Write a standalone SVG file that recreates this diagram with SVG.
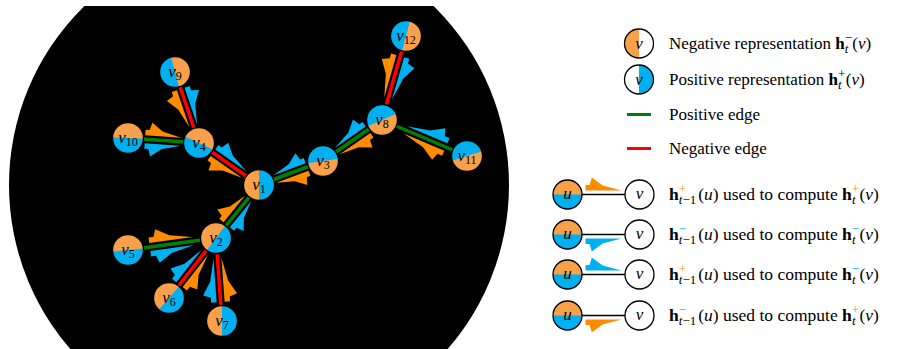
<svg xmlns="http://www.w3.org/2000/svg" xmlns:xlink="http://www.w3.org/1999/xlink" width="903" height="349" viewBox="0 0 903 349">
<defs>
  <clipPath id="clip"><rect x="0" y="6" width="903" height="343"/></clipPath>
  <path id="hp" d="M0,4 L40,4 L19,9 L7,17 L4.5,9.5 L0,9.5 Z"/>
  <path id="half" d="M0,-15.5 A15.5,15.5 0 0 0 0,15.5 Z"/>
</defs>
<style>
  .or{fill:#FF8C00}
  .bl{fill:#00B0F0}
  .no{fill:#F9A04A}
  .nb{fill:#00B0F0}
  .ring{fill:none;stroke:#000;stroke-width:1.3}
  .eb{stroke:#000;stroke-width:7.5}
  .eg{stroke:#008000;stroke-width:3.5}
  .er{stroke:#FF0000;stroke-width:3.5}
  .lbl{font-family:"Liberation Serif",serif;font-size:17px;text-anchor:middle;fill:#000}
  .it{font-style:italic}
  .txt{font-family:"Liberation Serif",serif;font-size:17px;fill:#000}
  .txb{font-family:"Liberation Serif",serif;font-size:17.5px;fill:#000}
  .sm{font-size:12px}
  .ss{font-size:13px}
</style>

<circle cx="259" cy="185" r="250" fill="#000" clip-path="url(#clip)"/>

<g id="connectors">
  <g id="edge-lines">
    <line class="eb" x1="175" y1="72" x2="199" y2="143"/><line class="er" x1="175" y1="72" x2="199" y2="143"/>
    <line class="eb" x1="128" y1="138" x2="199" y2="143"/><line class="eg" x1="128" y1="138" x2="199" y2="143"/>
    <line class="eb" x1="199" y1="143" x2="259" y2="185"/><line class="er" x1="199" y1="143" x2="259" y2="185"/>
    <line class="eb" x1="323" y1="161" x2="259" y2="185"/><line class="eg" x1="323" y1="161" x2="259" y2="185"/>
    <line class="eb" x1="382" y1="120" x2="323" y2="161"/><line class="eg" x1="382" y1="120" x2="323" y2="161"/>
    <line class="eb" x1="467" y1="156" x2="382" y2="120"/><line class="eg" x1="467" y1="156" x2="382" y2="120"/>
    <line class="eb" x1="406" y1="36" x2="382" y2="120"/><line class="er" x1="406" y1="36" x2="382" y2="120"/>
    <line class="eb" x1="216" y1="238" x2="259" y2="185"/><line class="eg" x1="216" y1="238" x2="259" y2="185"/>
    <line class="eb" x1="128" y1="250" x2="216" y2="238"/><line class="eg" x1="128" y1="250" x2="216" y2="238"/>
    <line class="eb" x1="169" y1="298" x2="216" y2="238"/><line class="er" x1="169" y1="298" x2="216" y2="238"/>
    <line class="eb" x1="222" y1="321" x2="216" y2="238"/><line class="er" x1="222" y1="321" x2="216" y2="238"/>
  </g>
  <g id="edge-arrows">
    <g transform="translate(175,72) rotate(71.33)">
      <use xlink:href="#hp" class="bl" transform="translate(18,0) scale(0.975,-1)"/>
      <use xlink:href="#hp" class="or" transform="translate(18,0) scale(0.975,1)"/>
    </g>
    <g transform="translate(128,138) rotate(4.03)">
      <use xlink:href="#hp" class="or" transform="translate(17,0) scale(0.9,-1)"/>
      <use xlink:href="#hp" class="bl" transform="translate(17,0) scale(0.9,1)"/>
    </g>
    <g transform="translate(199,143) rotate(34.99)">
      <use xlink:href="#hp" class="bl" transform="translate(17,0) scale(0.95,-1)"/>
      <use xlink:href="#hp" class="or" transform="translate(17,0) scale(0.95,1)"/>
    </g>
    <g transform="translate(323,161) rotate(159.44)">
      <use xlink:href="#hp" class="or" transform="translate(17,0) scale(0.86,-1)"/>
      <use xlink:href="#hp" class="bl" transform="translate(17,0) scale(0.86,1)"/>
    </g>
    <g transform="translate(382,120) rotate(145.2)">
      <use xlink:href="#hp" class="or" transform="translate(17,0) scale(0.93,-1)"/>
      <use xlink:href="#hp" class="bl" transform="translate(17,0) scale(0.93,1)"/>
    </g>
    <g transform="translate(467,156) rotate(-157.05)">
      <use xlink:href="#hp" class="or" transform="translate(23,0) scale(1.1,-1)"/>
      <use xlink:href="#hp" class="bl" transform="translate(23,0) scale(1.1,1)"/>
    </g>
    <g transform="translate(406,36) rotate(105.95)">
      <use xlink:href="#hp" class="bl" transform="translate(21,0) scale(1.1,-1)"/>
      <use xlink:href="#hp" class="or" transform="translate(21,0) scale(1.1,1)"/>
    </g>
    <g transform="translate(216,238) rotate(-50.95)">
      <use xlink:href="#hp" class="or" transform="translate(17,0) scale(0.85,-1)"/>
      <use xlink:href="#hp" class="bl" transform="translate(17,0) scale(0.85,1)"/>
    </g>
    <g transform="translate(128,250) rotate(-7.77)">
      <use xlink:href="#hp" class="or" transform="translate(22,0) scale(1.1,-1)"/>
      <use xlink:href="#hp" class="bl" transform="translate(22,0) scale(1.1,1)"/>
    </g>
    <g transform="translate(169,298) rotate(-51.93)">
      <use xlink:href="#hp" class="bl" transform="translate(17,0) scale(1.03,-1)"/>
      <use xlink:href="#hp" class="or" transform="translate(17,0) scale(1.03,1)"/>
    </g>
    <g transform="translate(222,321) rotate(-94.13)">
      <use xlink:href="#hp" class="bl" transform="translate(19,0) scale(1.1,-1)"/>
      <use xlink:href="#hp" class="or" transform="translate(19,0) scale(1.1,1)"/>
    </g>
  </g>
</g>

<g id="v1" transform="translate(259,185)">
  <g transform="rotate(0)"><circle r="15.5" class="nb"/><use xlink:href="#half" class="no"/></g>
  <circle r="15.5" class="ring"/>
  <text class="lbl" x="0" y="5"><tspan class="it">v</tspan><tspan class="sm" dy="3">1</tspan></text>
</g>
<g id="v2" transform="translate(216,238)">
  <g transform="rotate(37)"><circle r="15.5" class="nb"/><use xlink:href="#half" class="no"/></g>
  <circle r="15.5" class="ring"/>
  <text class="lbl" x="0" y="5"><tspan class="it">v</tspan><tspan class="sm" dy="3">2</tspan></text>
</g>
<g id="v3" transform="translate(323,161)">
  <g transform="rotate(-98)"><circle r="15.5" class="nb"/><use xlink:href="#half" class="no"/></g>
  <circle r="15.5" class="ring"/>
  <text class="lbl" x="0" y="5"><tspan class="it">v</tspan><tspan class="sm" dy="3">3</tspan></text>
</g>
<g id="v4" transform="translate(199,143)">
  <g transform="rotate(115)"><circle r="15.5" class="nb"/><use xlink:href="#half" class="no"/></g>
  <circle r="15.5" class="ring"/>
  <text class="lbl" x="0" y="5"><tspan class="it">v</tspan><tspan class="sm" dy="3">4</tspan></text>
</g>
<g id="v5" transform="translate(128,250)">
  <g transform="rotate(84)"><circle r="15.5" class="nb"/><use xlink:href="#half" class="no"/></g>
  <circle r="15.5" class="ring"/>
  <text class="lbl" x="0" y="5"><tspan class="it">v</tspan><tspan class="sm" dy="3">5</tspan></text>
</g>
<g id="v6" transform="translate(169,298)">
  <g transform="rotate(41)"><circle r="15.5" class="nb"/><use xlink:href="#half" class="no"/></g>
  <circle r="15.5" class="ring"/>
  <text class="lbl" x="0" y="5"><tspan class="it">v</tspan><tspan class="sm" dy="3">6</tspan></text>
</g>
<g id="v7" transform="translate(222,321)">
  <g transform="rotate(0)"><circle r="15.5" class="nb"/><use xlink:href="#half" class="no"/></g>
  <circle r="15.5" class="ring"/>
  <text class="lbl" x="0" y="5"><tspan class="it">v</tspan><tspan class="sm" dy="3">7</tspan></text>
</g>
<g id="v8" transform="translate(382,120)">
  <g transform="rotate(-114)"><circle r="15.5" class="nb"/><use xlink:href="#half" class="no"/></g>
  <circle r="15.5" class="ring"/>
  <text class="lbl" x="0" y="5"><tspan class="it">v</tspan><tspan class="sm" dy="3">8</tspan></text>
</g>
<g id="v9" transform="translate(175,72)">
  <g transform="rotate(165)"><circle r="15.5" class="nb"/><use xlink:href="#half" class="no"/></g>
  <circle r="15.5" class="ring"/>
  <text class="lbl" x="0" y="5"><tspan class="it">v</tspan><tspan class="sm" dy="3">9</tspan></text>
</g>
<g id="v10" transform="translate(128,138)">
  <g transform="rotate(93)"><circle r="15.5" class="nb"/><use xlink:href="#half" class="no"/></g>
  <circle r="15.5" class="ring"/>
  <text class="lbl" x="0" y="5"><tspan class="it">v</tspan><tspan class="sm" dy="3">10</tspan></text>
</g>
<g id="v11" transform="translate(467,156)">
  <g transform="rotate(-108)"><circle r="15.5" class="nb"/><use xlink:href="#half" class="no"/></g>
  <circle r="15.5" class="ring"/>
  <text class="lbl" x="0" y="5"><tspan class="it">v</tspan><tspan class="sm" dy="3">11</tspan></text>
</g>
<g id="v12" transform="translate(406,36)">
  <g transform="rotate(-165)"><circle r="15.5" class="nb"/><use xlink:href="#half" class="no"/></g>
  <circle r="15.5" class="ring"/>
  <text class="lbl" x="0" y="5"><tspan class="it">v</tspan><tspan class="sm" dy="3">12</tspan></text>
</g>

<g id="legend">
  <g id="leg-neg" transform="translate(639,43.5)">
    <circle r="14.5" fill="#fff"/>
    <use xlink:href="#half" class="no" transform="scale(0.935)"/>
    <circle r="14.5" class="ring"/>
    <text class="lbl it" x="0" y="5">v</text>
  </g>
  <text class="txt" x="669" y="48.5">Negative representation <tspan font-weight="bold">h</tspan><tspan class="ss" dy="-7">−</tspan><tspan class="ss it" dx="-7.3" dy="11">t</tspan><tspan dx="4" dy="-4">(</tspan><tspan class="it">v</tspan>)</text>

  <g id="leg-pos" transform="translate(639,79.5)">
    <circle r="14.5" fill="#fff"/>
    <use xlink:href="#half" class="nb" transform="scale(0.935) rotate(180)"/>
    <circle r="14.5" class="ring"/>
    <text class="lbl it" x="0" y="5">v</text>
  </g>
  <text class="txt" x="669" y="84.5">Positive representation <tspan font-weight="bold">h</tspan><tspan class="ss" dy="-7">+</tspan><tspan class="ss it" dx="-7.3" dy="11">t</tspan><tspan dx="4" dy="-4">(</tspan><tspan class="it">v</tspan>)</text>

  <line x1="627" y1="114.5" x2="651" y2="114.5" stroke="#008000" stroke-width="3"/>
  <text class="txt" x="669" y="119.5">Positive edge</text>
  <line x1="627" y1="148.5" x2="651" y2="148.5" stroke="#FF0000" stroke-width="3"/>
  <text class="txt" x="669" y="153.5">Negative edge</text>

  <g id="leg-row1">
    <line x1="582" y1="194.5" x2="625" y2="194.5" stroke="#000" stroke-width="1.6"/>
    <use xlink:href="#hp" class="or" transform="translate(585.5,194.5) scale(0.9,-1)"/>
    <g transform="translate(567.5,194.5)">
      <g transform="rotate(90)"><circle r="14.5" class="nb"/><use xlink:href="#half" class="no" transform="scale(0.935)"/></g>
      <circle r="14.5" class="ring"/>
      <text class="lbl it" x="0" y="4">u</text>
    </g>
    <g transform="translate(639.5,194.5)">
      <circle r="14.5" fill="#fff" stroke="#000" stroke-width="1.3"/>
      <text class="lbl it" x="0" y="4">v</text>
    </g>
    <text class="txb" x="669" y="200"><tspan font-weight="bold">h</tspan><tspan class="ss" dy="-7" fill="#FF8C00">+</tspan><tspan class="ss" dx="-7.3" dy="11"><tspan class="it">t</tspan>−1</tspan><tspan dx="2" dy="-4">(</tspan><tspan class="it">u</tspan>) used to compute <tspan font-weight="bold">h</tspan><tspan class="ss" dy="-7" fill="#FF8C00">+</tspan><tspan class="ss it" dx="-7.3" dy="11">t</tspan><tspan dx="4" dy="-4">(</tspan><tspan class="it">v</tspan>)</text>
  </g>

  <g id="leg-row2">
    <line x1="582" y1="234.5" x2="625" y2="234.5" stroke="#000" stroke-width="1.6"/>
    <use xlink:href="#hp" class="bl" transform="translate(585.5,234.5) scale(0.9,1)"/>
    <g transform="translate(567.5,234.5)">
      <g transform="rotate(90)"><circle r="14.5" class="nb"/><use xlink:href="#half" class="no" transform="scale(0.935)"/></g>
      <circle r="14.5" class="ring"/>
      <text class="lbl it" x="0" y="4">u</text>
    </g>
    <g transform="translate(639.5,234.5)">
      <circle r="14.5" fill="#fff" stroke="#000" stroke-width="1.3"/>
      <text class="lbl it" x="0" y="4">v</text>
    </g>
    <text class="txb" x="669" y="240"><tspan font-weight="bold">h</tspan><tspan class="ss" dy="-7" fill="#00B0F0">−</tspan><tspan class="ss" dx="-7.3" dy="11"><tspan class="it">t</tspan>−1</tspan><tspan dx="2" dy="-4">(</tspan><tspan class="it">u</tspan>) used to compute <tspan font-weight="bold">h</tspan><tspan class="ss" dy="-7" fill="#00B0F0">−</tspan><tspan class="ss it" dx="-7.3" dy="11">t</tspan><tspan dx="4" dy="-4">(</tspan><tspan class="it">v</tspan>)</text>
  </g>

  <g id="leg-row3">
    <line x1="582" y1="274.5" x2="625" y2="274.5" stroke="#000" stroke-width="1.6"/>
    <use xlink:href="#hp" class="bl" transform="translate(585.5,274.5) scale(0.9,-1)"/>
    <g transform="translate(567.5,274.5)">
      <g transform="rotate(90)"><circle r="14.5" class="nb"/><use xlink:href="#half" class="no" transform="scale(0.935)"/></g>
      <circle r="14.5" class="ring"/>
      <text class="lbl it" x="0" y="4">u</text>
    </g>
    <g transform="translate(639.5,274.5)">
      <circle r="14.5" fill="#fff" stroke="#000" stroke-width="1.3"/>
      <text class="lbl it" x="0" y="4">v</text>
    </g>
    <text class="txb" x="669" y="280"><tspan font-weight="bold">h</tspan><tspan class="ss" dy="-7" fill="#FF8C00">+</tspan><tspan class="ss" dx="-7.3" dy="11"><tspan class="it">t</tspan>−1</tspan><tspan dx="2" dy="-4">(</tspan><tspan class="it">u</tspan>) used to compute <tspan font-weight="bold">h</tspan><tspan class="ss" dy="-7" fill="#00B0F0">−</tspan><tspan class="ss it" dx="-7.3" dy="11">t</tspan><tspan dx="4" dy="-4">(</tspan><tspan class="it">v</tspan>)</text>
  </g>

  <g id="leg-row4">
    <line x1="582" y1="315.5" x2="625" y2="315.5" stroke="#000" stroke-width="1.6"/>
    <use xlink:href="#hp" class="or" transform="translate(585.5,315.5) scale(0.9,1)"/>
    <g transform="translate(567.5,315.5)">
      <g transform="rotate(90)"><circle r="14.5" class="nb"/><use xlink:href="#half" class="no" transform="scale(0.935)"/></g>
      <circle r="14.5" class="ring"/>
      <text class="lbl it" x="0" y="4">u</text>
    </g>
    <g transform="translate(639.5,315.5)">
      <circle r="14.5" fill="#fff" stroke="#000" stroke-width="1.3"/>
      <text class="lbl it" x="0" y="4">v</text>
    </g>
    <text class="txb" x="669" y="321"><tspan font-weight="bold">h</tspan><tspan class="ss" dy="-7" fill="#00B0F0">−</tspan><tspan class="ss" dx="-7.3" dy="11"><tspan class="it">t</tspan>−1</tspan><tspan dx="2" dy="-4">(</tspan><tspan class="it">u</tspan>) used to compute <tspan font-weight="bold">h</tspan><tspan class="ss" dy="-7" fill="#FF8C00">+</tspan><tspan class="ss it" dx="-7.3" dy="11">t</tspan><tspan dx="4" dy="-4">(</tspan><tspan class="it">v</tspan>)</text>
  </g>
</g>
</svg>
